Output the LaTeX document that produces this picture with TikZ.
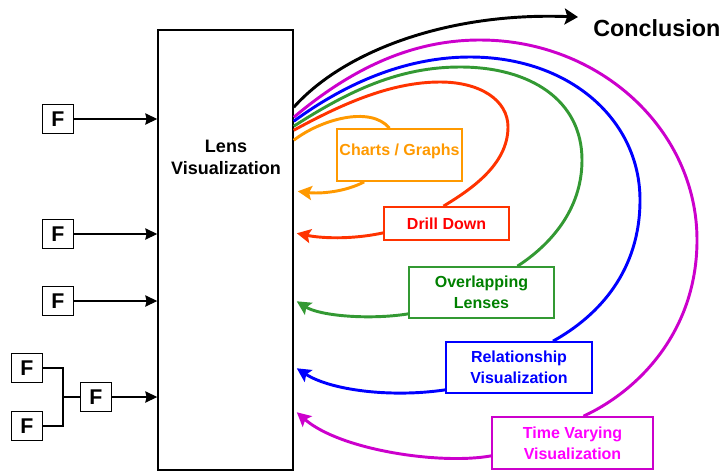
\documentclass[tikz,border=0pt]{standalone}
\usepackage{fontspec}
\setmainfont{Liberation Sans}
\usetikzlibrary{arrows.meta,calc}
\definecolor{ChartOrange}{HTML}{FF9900}
\definecolor{DrillRed}{HTML}{FF3300}
\definecolor{DrillText}{HTML}{FF0000}
\definecolor{LensGreen}{HTML}{339933}
\definecolor{LensText}{HTML}{008000}
\definecolor{RelBlue}{HTML}{0000FF}
\definecolor{TimeMagenta}{HTML}{CC00CC}
\definecolor{TimeText}{HTML}{FF00FF}
\tikzset{
  LensBox/.style = {draw = black, line width=1.1pt, inner sep=0pt, minimum width=101.25pt, minimum height=330pt},
  FBox/.style = {draw = black, line width=1.2pt, inner sep=0pt, minimum width=23pt, minimum height=22pt, font = \fontsize{16}{16}\selectfont\bfseries},
  LabelBox/.style = {draw = #1, line width=1.3pt, inner sep=0pt, align=center, font = \fontsize{12}{15.75}\selectfont\bfseries},
  InArrow/.style = {line width=0.8pt, -{Stealth[length=9pt,width=8.5pt,inset=1pt]}},
  Flow/.style = {draw = #1, line width=2.2pt},
  FlowBack/.style = {draw = #1, fill = none, line width=2.2pt, -{Stealth[length=10.5pt,width=10.5pt,inset=2pt]}}
}
\begin{document}
\begin{tikzpicture}[x=0.75pt,y=-0.75pt]
  \useasboundingbox (0,0) rectangle (724,472);
  \node [LensBox] (lens) at (225.5,250) {};
  \node [align=center, font = \fontsize{13.5}{16.5}\selectfont\bfseries] (lenstext) at (226,157) {Lens\\Visualization};
  % inputs
  \node [FBox] (f1) at (58,119) {F};
  \node [FBox] (f2) at (58,234) {F};
  \node [FBox] (f3) at (58,301) {F};
  \node [FBox] (fa) at (27,368) {F};
  \node [FBox] (fb) at (27,426) {F};
  \node [FBox] (fc) at (96,397) {F};
  \coordinate (join) at (63,397);
  \draw [line width=0.8pt] (fa) -| (join);
  \draw [line width=0.8pt] (fb) -| (join);
  \draw [line width=0.8pt] (join) -- (fc);
  \foreach \f in {f1,f2,f3,fc}
    \draw [InArrow] (\f) -- (\f -| lens.west);
  % lenses
  \node [LabelBox=ChartOrange, text=ChartOrange, minimum width=93.75pt, minimum height=39pt, text height=8.8pt, text depth=8.3pt] (charts) at (399.5,155) {Charts / Graphs};
  \node [LabelBox=DrillRed, text=DrillText, minimum width=93.75pt, minimum height=24.75pt] (drill) at (446.5,223.5) {Drill Down};
  \node [LabelBox=LensGreen, text=LensText, minimum width=108.75pt, minimum height=38.25pt] (overl) at (481.5,292.5) {Overlapping\\Lenses};
  \node [LabelBox=RelBlue, text=RelBlue, minimum width=109.5pt, minimum height=38.25pt] (rel) at (519,367.5) {Relationship\\Visualization};
  \node [LabelBox=TimeMagenta, text=TimeText, minimum width=120.75pt, minimum height=39pt] (time) at (572.5,443) {Time Varying\\Visualization};
  \node [anchor=west, inner sep=0pt, font = \fontsize{17.5}{17.5}\selectfont\bfseries] (concl) at (593,28) {Conclusion};
  % out of the lens
  \coordinate (s0) at ($(lens.north east)+(0,78)$);
  \coordinate (s1) at ($(lens.north east)+(0,88)$);
  \coordinate (s2) at ($(lens.north east)+(0,92)$);
  \coordinate (s3) at ($(lens.north east)+(0,97)$);
  \coordinate (s4) at ($(lens.north east)+(0,101)$);
  \coordinate (s5) at ($(lens.north east)+(0,111)$);
  % back into the lens
  \coordinate (t1) at ($(lens.north east)+(3,383)$);
  \coordinate (t2) at ($(lens.north east)+(3,339)$);
  \coordinate (t3) at ($(lens.north east)+(3,272)$);
  \coordinate (t4) at ($(lens.north east)+(3,204)$);
  \coordinate (t5) at ($(lens.north east)+(4,162)$);
  \coordinate (cend) at ($(concl.west)+(-15,-11)$);
  \draw [FlowBack=black, -{Stealth[length=10pt,width=12pt,inset=2pt]}] (s0) .. controls (345,50) and (450,12) .. (cend);
  \draw [Flow=TimeMagenta] (s1) .. controls (350,70) and (410,40) .. (480,40)
    .. controls (600,40) and (697,130) .. (697,240)
    .. controls (697,330) and (640,390) .. ($(time.north)+(11,0)$);
  \draw [FlowBack=TimeMagenta] ($(time.south west)+(0,-14)$) .. controls (440,465) and (340,450) .. (t1);
  \draw [Flow=RelBlue] (s2) .. controls (350,80) and (410,57) .. (470,57)
    .. controls (570,57) and (640,120) .. (640,200)
    .. controls (640,270) and (600,315) .. ($(rel.north)+(34,0)$);
  \draw [FlowBack=RelBlue] ($(rel.south west)+(0,-4)$) .. controls (390,398) and (330,390) .. (t2);
  \draw [Flow=LensGreen] (s3) .. controls (350,90) and (400,67) .. (460,67)
    .. controls (530,67) and (582,100) .. (582,160)
    .. controls (582,210) and (550,245) .. ($(overl.north)+(36,0)$);
  \draw [FlowBack=LensGreen] ($(overl.south west)+(0,-5)$) .. controls (370,320) and (320,316) .. (t3);
  \draw [Flow=DrillRed] (s4) .. controls (340,105) and (390,82) .. (440,82)
    .. controls (480,82) and (508,100) .. (508,127)
    .. controls (508,165) and (470,190) .. ($(drill.north)+(-3,0)$);
  \draw [FlowBack=DrillRed] ($(drill.south west)+(0,-8)$) .. controls (350,240) and (320,238) .. (t4);
  \draw [Flow=ChartOrange] (s5) .. controls (320,120) and (370,105) .. ($(charts.north)+(-10,0)$);
  \draw [FlowBack=ChartOrange] ($(charts.south west)+(28,0)$) .. controls (345,192) and (320,194) .. (t5);
\end{tikzpicture}
\end{document}
